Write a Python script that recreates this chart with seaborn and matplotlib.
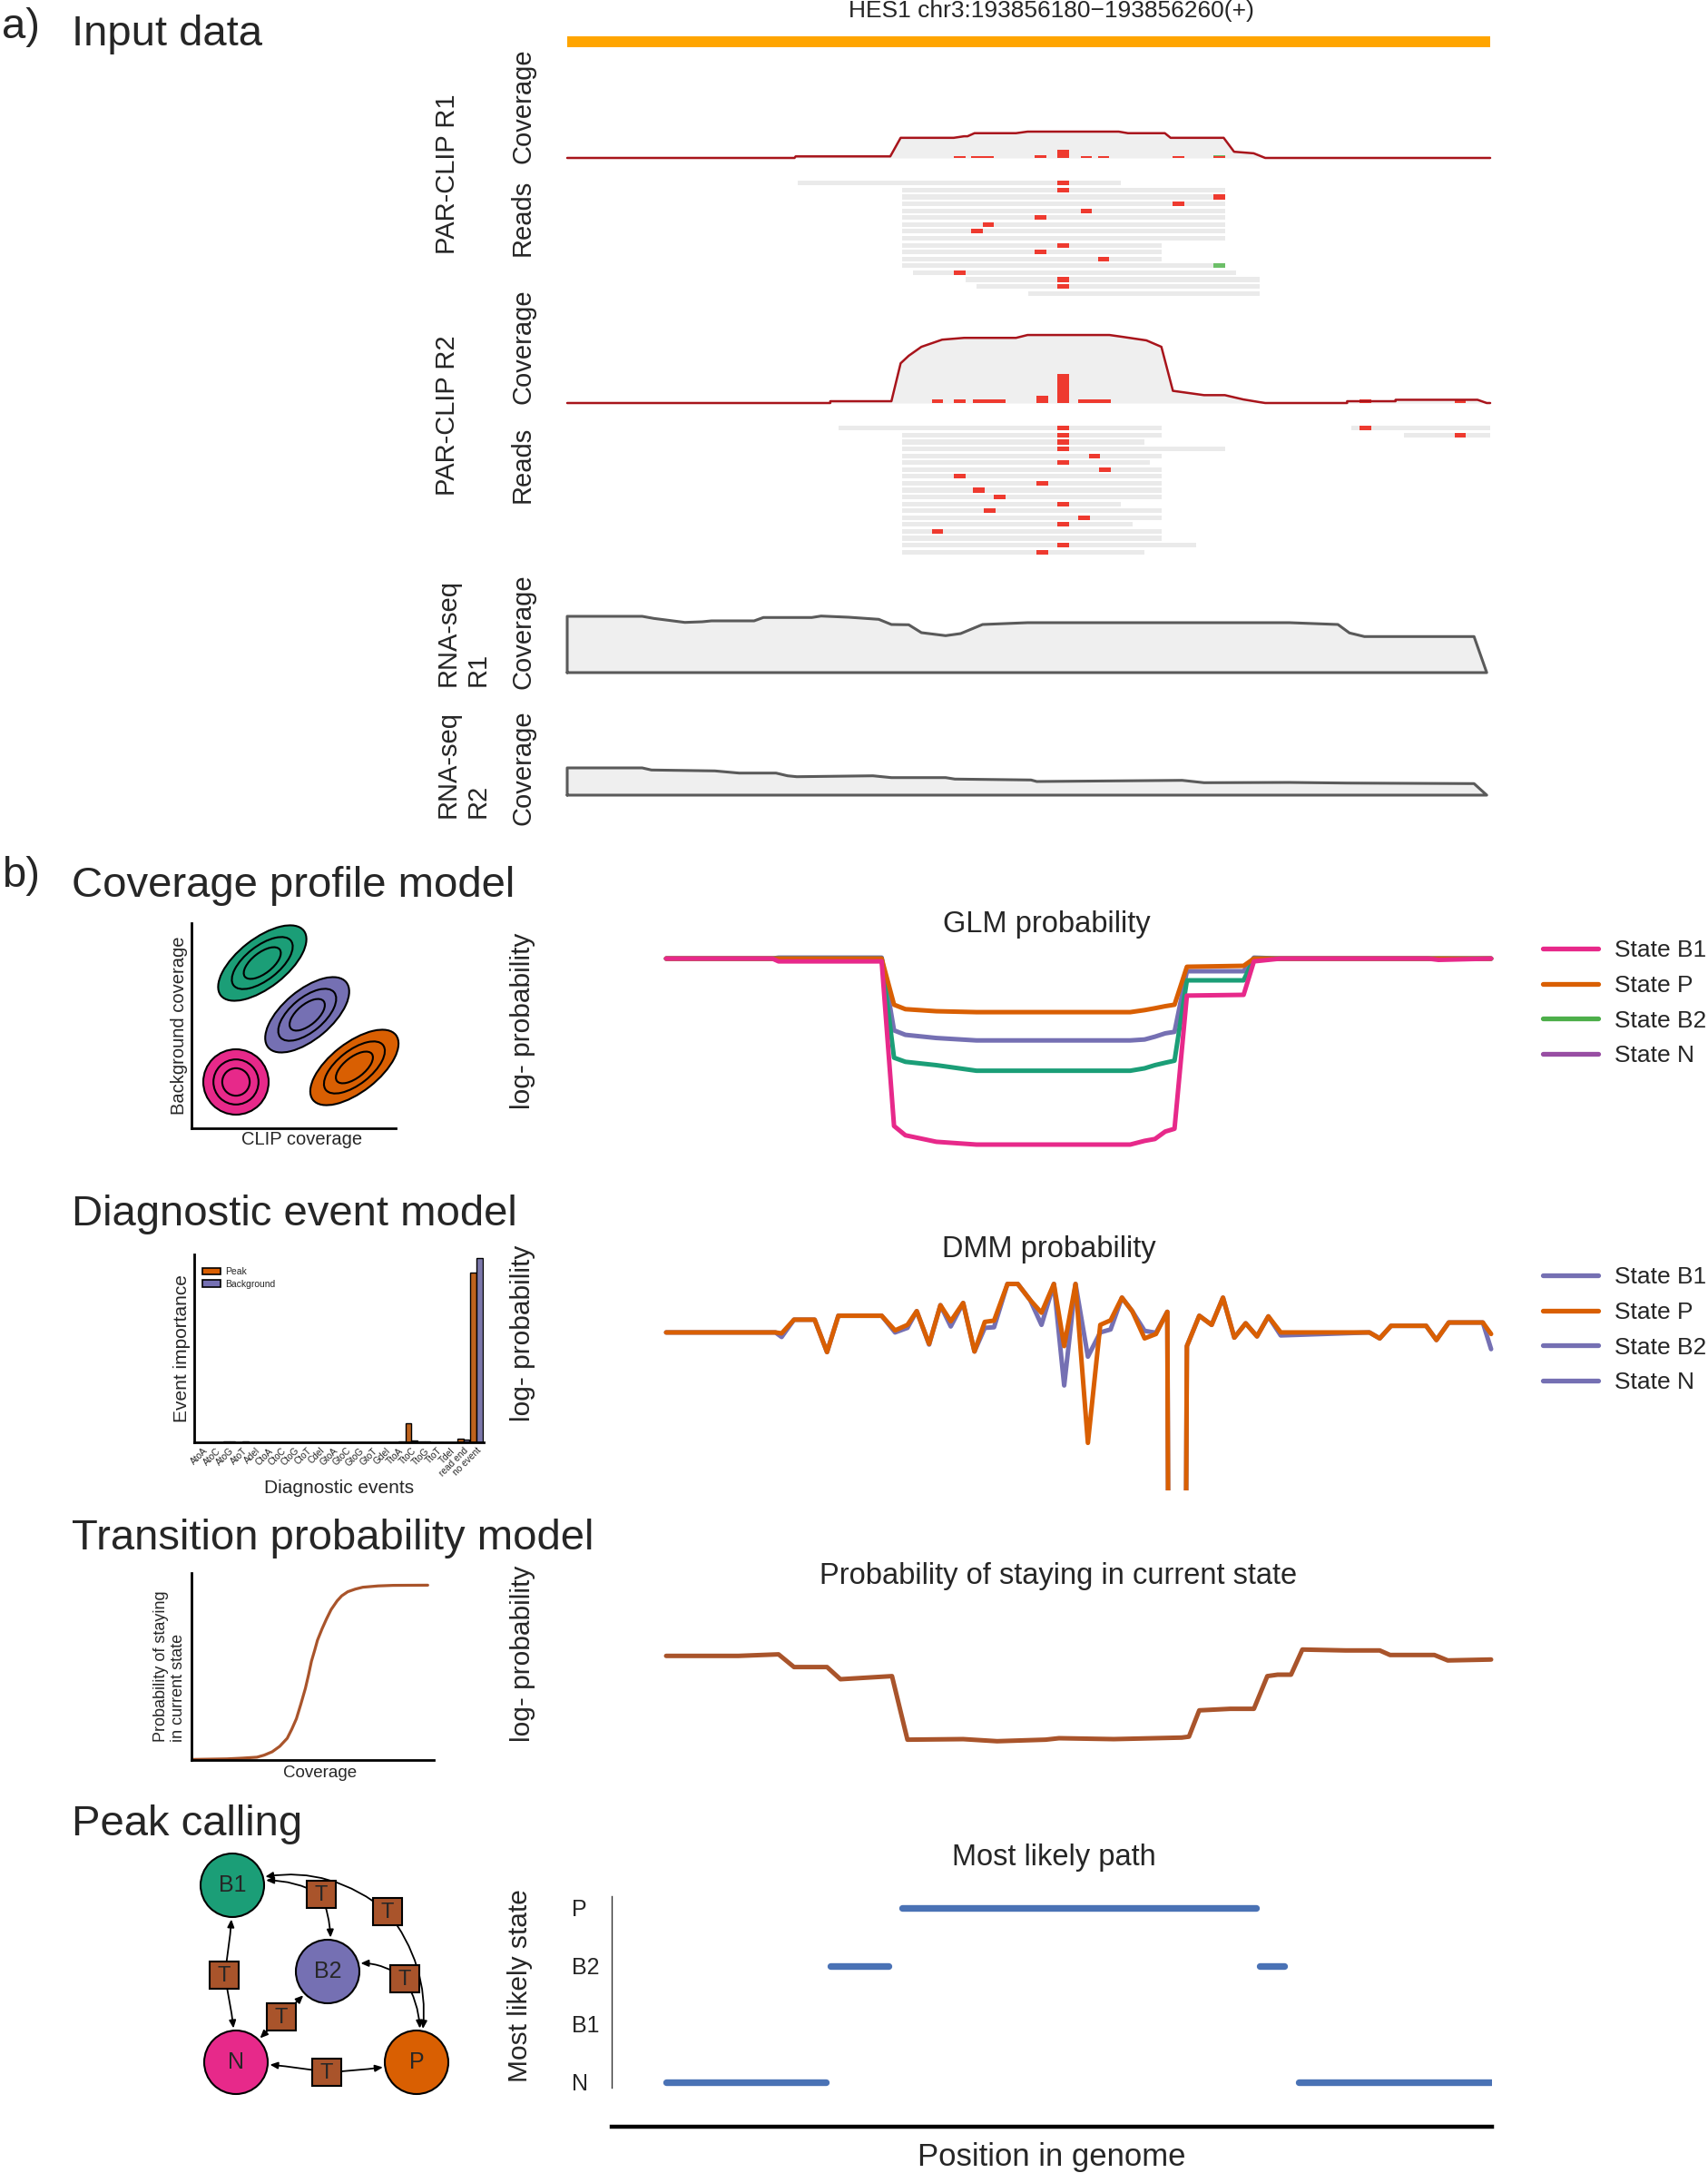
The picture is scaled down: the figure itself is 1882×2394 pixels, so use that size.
import numpy as np
import pandas as pd
import matplotlib
matplotlib.use("Agg")
import matplotlib.pyplot as plt
import seaborn as sns
from collections import Counter
from matplotlib.patches import Ellipse, Rectangle, Patch
from matplotlib.lines import Line2D

# ── data ───────────────────────────────────────────────────────────────────────
gene_label = "HES1 chr3:193856180\u2212193856260(+)"
gene_start, gene_end = 0, 80

# PAR-CLIP R1 coverage (position in bp, reads)
clip1_pos = [0, 19.7, 19.8, 28, 28.9, 33.5, 34.4, 34.7, 35.3, 38.9, 39.9, 47.8,
             48.6, 51.8, 52.3, 56.9, 57.8, 59.5, 60.5, 80]
clip1_cov = [0, 0, 1, 1, 13, 13, 14, 14, 16, 16, 17, 17, 16, 16, 13, 13, 4, 3, 0, 0]

clip1_read_row = list(range(17))
clip1_read_start = [20, 29, 29, 29, 29, 29, 29, 29, 29, 29, 29, 29, 29, 30, 34.5, 35.5, 40]
clip1_read_end = [48, 57, 57, 57, 57, 57, 57, 57, 57, 51.5, 51.5, 51.5, 57, 58, 60, 60, 60]
clip1_mm_row = [0, 1, 2, 3, 4, 5, 6, 7, 9, 10, 11, 12, 13, 14, 15]
clip1_mm_pos = [43, 43, 56.5, 53, 45, 41, 36.5, 35.5, 43, 41, 46.5, 56.5, 34, 43, 43]
clip1_mm_kind = ["TC", "TC", "TC", "TC", "TC", "TC", "TC", "TC", "TC", "TC", "TC",
                 "other", "TC", "TC", "TC"]

# PAR-CLIP R2
clip2_pos = [0, 22.8, 22.8, 28.1, 28.9, 29.6, 30.7, 32.5, 34.4, 38.9, 39.9, 47.0,
             48.1, 50.2, 51.5, 52.5, 55.2, 57.0, 58.6, 59.9, 60.5, 67.6, 67.6, 71.8,
             71.8, 78.9, 79.7, 80]
clip2_cov = [0, 0, 0.5, 0.5, 11.1, 13.2, 15.7, 17.7, 18.2, 18.2, 19, 19, 18.5, 17.5,
             15.7, 3.4, 2.2, 2.2, 1, 0.3, 0, 0, 0.5, 0.5, 0.9, 0.9, 0, 0]

clip2_read_row = [0, 0, 1, 1, 2, 3, 4, 5, 6, 7, 8, 9, 10, 11, 12, 13, 14, 15, 16, 17, 18]
clip2_read_start = [23.5, 68, 29, 72.5, 29, 29, 29, 29, 29, 29, 29, 29, 29, 29, 29, 29,
                    29, 29, 29, 29, 29]
clip2_read_end = [51.5, 80, 51.5, 80, 50, 57, 51.5, 50.5, 51.5, 51.5, 51.5, 51.5, 51.5,
                  48, 51.5, 51.5, 49, 51.5, 51.5, 54.5, 50]
clip2_mm_row = [0, 0, 1, 1, 2, 3, 4, 5, 6, 7, 8, 9, 10, 11, 12, 13, 14, 15, 17, 18]
clip2_mm_pos = [43, 69.2, 43, 77.4, 43, 43, 45.7, 43, 46.6, 34, 41.2, 35.7, 37.5, 43,
                36.6, 44.8, 43, 32.1, 43, 41.2]
clip2_mm_kind = ["TC"] * 20

# RNA-seq coverage
rna1_pos = [0, 0, 6.5, 7.5, 10.2, 11.7, 12.5, 16.2, 17.0, 21.2, 22.0, 24.4, 27.0, 28.1,
            29.6, 30.7, 32.8, 34.1, 36.0, 39.9, 62.6, 66.8, 67.8, 69.1, 78.6, 79.7]
rna1_cov = [0, 62, 62, 59.7, 55.3, 56, 57, 57, 60.7, 60.7, 62.3, 61, 58.7, 53, 52.7, 44,
            40.7, 43, 53, 55, 55, 53, 43.7, 39.7, 39.7, 0]
rna2_pos = [0, 0, 6.5, 7.3, 12.8, 14.9, 18.1, 19.1, 19.9, 26.5, 28.1, 32.8, 33.6, 40.2,
            40.7, 53.3, 55.2, 62.6, 67.6, 78.6, 79.7]
rna2_cov = [0, 30, 30, 27.7, 26.7, 24.3, 24.3, 21.3, 20.3, 21.3, 19.3, 19.3, 17.7, 16.7,
            15, 16.3, 13.7, 14, 13.3, 12.7, 0]

# Coverage profile model (schematic state distributions)
cpm_state = ["B1", "B2", "N", "P"]
cpm_clip = [78, 127.5, 49, 179.5]
cpm_background = [182, 125, 51, 67]
cpm_width = [116, 112, 72, 116]
cpm_height = [54, 54, 72, 54]
cpm_angle = [38, 40, 0, 38]

# Diagnostic event model
events = ["AtoA", "AtoC", "AtoG", "AtoT", "Adel", "CtoA", "CtoC", "CtoG", "CtoT", "Cdel",
          "GtoA", "GtoC", "GtoG", "GtoT", "Gdel", "TtoA", "TtoC", "TtoG", "TtoT", "Tdel",
          "read end", "no event"]
peak_importance = [0, 0, 0.004, 0, 0, 0, 0, 0, 0, 0, 0, 0, 0, 0, 0, 0.001, 0.105, 0.003,
                   0, 0, 0.021, 0.923]
bg_importance = [0, 0, 0.003, 0.003, 0, 0, 0, 0, 0, 0, 0, 0, 0, 0, 0, 0.003, 0.008, 0.004,
                 0, 0, 0.013, 1.0]

# Transition probability model (sigmoid)
trans_cov = [0.005, 0.146, 0.21, 0.27, 0.30, 0.333, 0.364, 0.395, 0.414, 0.433, 0.452,
             0.47, 0.483, 0.495, 0.508, 0.52, 0.539, 0.557, 0.576, 0.601, 0.62, 0.645,
             0.676, 0.707, 0.77, 0.832, 0.975]
trans_prob = [0.003, 0.006, 0.01, 0.015, 0.026, 0.044, 0.073, 0.116, 0.165, 0.221, 0.302,
              0.383, 0.455, 0.528, 0.585, 0.641, 0.702, 0.754, 0.804, 0.851, 0.878, 0.9,
              0.914, 0.924, 0.931, 0.934, 0.935]

# GLM log-probabilities along the region
glm_pos = [0, 10.3, 10.9, 20.9, 22.1, 23.2, 26.2, 30.1, 34.8, 45.0, 46.4, 47.4, 48.4,
           49.3, 50.5, 56.0, 57.0, 59.6, 73.9, 74.9, 80]
glm_b1 = [0, 0, -1.5, -1.5, -90, -95, -98.5, -100, -100, -100, -98, -97, -93, -91.5,
          -19.9, -19.5, -1.5, 0, 0, -0.7, 0]
glm_p = [0, 0, 0, 0, -24.8, -27.2, -28.3, -28.8, -28.8, -28.8, -27.7, -26.7, -25.6, -24.8,
         -4.4, -3.9, 0, 0, 0, 0, 0]
glm_b2 = [0, 0, 0, 0, -53.3, -55.5, -57.3, -60.3, -60.3, -60.3, -59, -57.3, -56, -54.9,
          -11.7, -11.7, 0, 0, 0, 0, 0]
glm_n = [0, 0, 0.5, 0.5, -38.6, -41, -42.7, -44, -44, -44, -43.5, -42, -40.2, -39.4, -6.8,
         -6.8, 0.5, 0, 0, 0, 0]

# DMM log-probabilities (background states overlap)
dmm_pos = [0, 10.6, 11.2, 12.4, 14.4, 15.6, 16.7, 20.9, 22.2, 23.4, 24.3, 25.5, 26.6,
           27.6, 28.8, 29.9, 30.9, 31.8, 33.1, 34.1, 35.3, 36.4, 37.6, 38.6, 39.7, 40.9,
           42.1, 43.1, 44.2, 45.2, 46.4, 47.5, 48.6, 48.7, 50.4, 50.5, 51.7, 52.9, 54.0,
           55.1, 56.2, 57.3, 58.4, 59.6, 68.2, 69.2, 70.3, 73.7, 74.7, 75.9, 79.2, 80.0]
dmm_peak = [0, 0, -0.6, 8.1, 8.1, -12.5, 10.6, 10.6, 1.3, 4.8, 13.5, -7.3, 17.3, 7.1,
            18.7, -12.1, 6.7, 7.5, 30.8, 30.8, 20.6, 12.5, 30.8, -8.7, 30.8, -70.2, 4.8,
            7.7, 22.1, 13.5, -3.8, -1.0, 13.1, -140, -140, -8.7, 10.6, 4.8, 22.1, -3.3,
            5.8, -2.5, 10.2, 0, 0, -3.8, 4.2, 4.2, -4.8, 6.3, 6.3, -1.0]
dmm_background = [0, 0, -2.9, 8.1, 8.1, -12.5, 10.6, 10.6, 0, 2.9, 13.5, -7.7, 17.3, 3.8,
                  18.7, -12.1, 2.9, 3.3, 30.8, 30.8, 20.6, 4.8, 30.8, -33.7, 30.8, -15.4,
                  0, 1.9, 22.1, 13.5, 1.0, -0.2, 13.1, -140, -140, -8.7, 10.6, 4.8, 22.1,
                  -3.3, 5.8, -2.5, 10.2, -1.9, 0, -3.8, 4.2, 4.2, -4.8, 6.3, 6.3, -10.6]

# Probability of staying in current state
stay_pos = [0, 7.0, 10.9, 12.4, 15.6, 16.9, 21.9, 23.4, 28.8, 32.1, 36.8, 38.1, 43.4,
            50.0, 50.7, 51.7, 54.7, 57.0, 58.3, 59.3, 60.6, 61.7, 65.9, 69.2, 70.2, 74.5,
            75.8, 80.0]
stay_logp = [-7, -7, -5.3, -19.3, -19.3, -32.7, -29.3, -99.3, -98.7, -101, -99.3, -97.7,
             -98.7, -97, -96, -67, -65.3, -65.3, -29.3, -27.7, -27.7, 0, -1, -1, -6, -6,
             -12, -11]

# Most likely path
state_order = ["N", "B1", "B2", "P"]
path_state = ["N", "B2", "P", "B2", "N"]
path_start = [0, 15.9, 22.9, 57.6, 61.3]
path_end = [15.5, 21.6, 57.2, 59.9, 80]

# Peak calling diagram
node_name = ["B1", "B2", "N", "P"]
node_x = [256, 361, 260, 459]
node_y = [2077, 2172, 2272, 2272]
t_box_x = [354, 427, 247, 446, 310, 360]
t_box_y = [2087, 2106, 2176, 2180, 2222, 2283]
t_box_targets = [("B1", "B2"), ("B1", "P"), ("B1", "N"), ("B2", "P"), ("B2", "N"), ("N", "P")]
t_box_bend = [(0.2, -0.15), (0.28, -0.25), (0.05, -0.05), (0.3, -0.2), (0.0, 0.0), (0.03, 0.03)]

# ── style ──────────────────────────────────────────────────────────────────────
PINK, ORANGE, GREEN, PURPLE = "#E7298A", "#D95F02", "#1B9E77", "#7570B3"
SIENNA = "#A9542B"
DARKRED = "#A8141B"
FILL_GREY = "#EFEFEF"
READ_GREY = "#EAEAEA"
MM_COLORS = {"TC": "#EE3A2F", "other": "#6CBF68"}
STATE_COLORS = {"B1": GREEN, "B2": PURPLE, "N": PINK, "P": ORANGE}

sns.set_style("white")
plt.rcParams["font.family"] = ["Liberation Sans", "DejaVu Sans"]

W, H = 1883, 2394
fig = plt.figure(figsize=(W / 100, H / 100), dpi=100)


def px_ax(x0, y0, x1, y1):
    return fig.add_axes([x0 / W, 1 - y1 / H, (x1 - x0) / W, (y1 - y0) / H])


def px_text(x, y, s, **kw):
    return fig.text(x / W, 1 - y / H, s, **kw)


def draw_coverage(ax, pos, cov, ymax, color, lw, mm=None):
    ax.fill_between(pos, cov, 0, color=FILL_GREY, lw=0, zorder=1)
    if mm is not None:
        counts = Counter(zip(mm[0], mm[1]))
        base = Counter()
        for kind in ["TC", "other"]:
            keys = sorted(p for (p, k) in counts if k == kind)
            if keys:
                h = [counts[(p, kind)] for p in keys]
                b = [base[p] for p in keys]
                ax.bar(keys, h, bottom=b, width=1.0, color=MM_COLORS[kind], lw=0, zorder=2)
                for p, hh in zip(keys, h):
                    base[p] += hh
    sns.lineplot(x=pos, y=cov, ax=ax, color=color, lw=lw, sort=False, estimator=None)
    for line in ax.lines:
        line.set_clip_on(False)
        line.set_zorder(3)
    ax.set_xlim(gene_start, gene_end)
    ax.set_ylim(0, ymax)
    ax.axis("off")


def draw_reads(ax, rows, starts, ends, mm_rows, mm_pos, mm_kind):
    ax.barh(rows, np.subtract(ends, starts), left=starts, height=0.68,
            color=READ_GREY, lw=0)
    ax.barh(mm_rows, 1.0, left=np.array(mm_pos) - 0.5, height=0.68,
            color=[MM_COLORS[k] for k in mm_kind], lw=0)
    ax.set_xlim(gene_start, gene_end)
    ax.set_ylim(max(rows) + 0.5, -0.5)
    ax.axis("off")


# ── panel a: input data ────────────────────────────────────────────────────────
px_text(2, 30, "a)", fontsize=34, va="center", ha="left")
px_text(79, 50, "Input data", fontsize=34, va="baseline", ha="left")
px_text(1158, 12, gene_label, fontsize=19, ha="center", va="center")

ax = px_ax(625, 40, 1642, 52)
ax.barh([0], [gene_end - gene_start], left=gene_start, height=1, color="#FFA500", lw=0)
ax.set_xlim(gene_start, gene_end)
ax.set_ylim(-0.5, 0.5)
ax.axis("off")

draw_coverage(px_ax(625, 130, 1642, 174), clip1_pos, clip1_cov, 25.8, DARKRED, 1.8,
              mm=(clip1_mm_pos, clip1_mm_kind))
draw_reads(px_ax(625, 198, 1642, 327), clip1_read_row, clip1_read_start, clip1_read_end,
           clip1_mm_row, clip1_mm_pos, clip1_mm_kind)
draw_coverage(px_ax(625, 360, 1642, 444), clip2_pos, clip2_cov, 21.3, DARKRED, 1.8,
              mm=(clip2_mm_pos, clip2_mm_kind))
draw_reads(px_ax(625, 468, 1642, 612), clip2_read_row, clip2_read_start, clip2_read_end,
           clip2_mm_row, clip2_mm_pos, clip2_mm_kind)


def draw_rna(ax, pos, cov, ymax):
    ax.fill_between(pos, cov, 0, color=FILL_GREY, lw=0)
    sns.lineplot(x=pos + [pos[0]], y=cov + [cov[0]], ax=ax, color="#5A5A5A", lw=2.2,
                 sort=False, estimator=None)
    for line in ax.lines:
        line.set_clip_on(False)
    ax.set_xlim(gene_start, gene_end)
    ax.set_ylim(0, ymax)
    ax.axis("off")


draw_rna(px_ax(625, 672, 1642, 741), rna1_pos, rna1_cov, 69)
draw_rna(px_ax(625, 840, 1642, 876), rna2_pos, rna2_cov, 36)

lab = dict(fontsize=21, rotation=90, ha="center", va="center")
px_text(493, 192, "PAR-CLIP R1", **lab)
px_text(576, 117, "Coverage", **lab)
px_text(576, 240, "Reads", **lab)
px_text(493, 458, "PAR-CLIP R2", **lab)
px_text(576, 382, "Coverage", **lab)
px_text(576, 512, "Reads", **lab)
px_text(510, 756, "RNA-seq\nR1", fontsize=21, rotation=90, ha="center", va="bottom",
        multialignment="left")
px_text(576, 696, "Coverage", **lab)
px_text(510, 901, "RNA-seq\nR2", fontsize=21, rotation=90, ha="center", va="bottom",
        multialignment="left")
px_text(576, 846, "Coverage", **lab)

# ── panel b: section titles ────────────────────────────────────────────────────
px_text(2, 965, "b)", fontsize=34, va="center", ha="left")
px_text(79, 988, "Coverage profile model", fontsize=34, va="baseline")
px_text(79, 1350, "Diagnostic event model", fontsize=34, va="baseline")
px_text(79, 1707, "Transition probability model", fontsize=34, va="baseline")
px_text(79, 2022, "Peak calling", fontsize=34, va="baseline")


def style_inset(ax):
    sns.despine(ax=ax)
    for s in ["left", "bottom"]:
        ax.spines[s].set_linewidth(2)
        ax.spines[s].set_color("black")
    ax.set_xticks([])
    ax.set_yticks([])


# coverage profile model inset
ax = px_ax(211, 1017, 436, 1243)
for st, cx, cy, w, h, a in zip(cpm_state, cpm_clip, cpm_background, cpm_width,
                                cpm_height, cpm_angle):
    for k, scale in enumerate([1.0, 0.69, 0.42]):
        ax.add_patch(Ellipse((cx, cy), w * scale, h * scale, angle=a,
                             facecolor=STATE_COLORS[st] if k == 0 else "none",
                             edgecolor="black", lw=1.5, clip_on=False))
ax.set_xlim(0, 225)
ax.set_ylim(0, 226)
style_inset(ax)
ax.set_xlabel("CLIP coverage", fontsize=14.5, labelpad=2)
ax.xaxis.set_label_coords(0.542, -0.015, transform=ax.transAxes)
ax.xaxis.label.set_va("top")
ax.set_ylabel("Background coverage", fontsize=14.5, labelpad=3)

# diagnostic event inset
ax = px_ax(214, 1382, 533, 1589)
diag_df = pd.DataFrame({"event": events * 2,
                        "importance": peak_importance + bg_importance,
                        "model": ["Peak"] * len(events) + ["Background"] * len(events)})
sns.barplot(data=diag_df, x="event", y="importance", hue="model", order=events,
            hue_order=["Peak", "Background"], palette=[ORANGE, PURPLE], width=0.93,
            edgecolor="black", linewidth=1, errorbar=None, legend=False, ax=ax)
ax.set_xlim(-0.7, 21.56)
ax.set_ylim(0, 1.021)
style_inset(ax)
ax.set_xticks(range(len(events)))
ax.set_xticklabels(events, rotation=45, ha="right", rotation_mode="anchor", fontsize=7.3)
ax.tick_params(axis="x", length=0, pad=3)
ax.set_xlabel("Diagnostic events", fontsize=15, labelpad=1)
ax.set_ylabel("Event importance", fontsize=15, labelpad=3)
ax.legend([Patch(facecolor=ORANGE, edgecolor="black", lw=1.2),
           Patch(facecolor=PURPLE, edgecolor="black", lw=1.2)],
          ["Peak", "Background"], loc="upper left", bbox_to_anchor=(0.028, 0.93),
          frameon=False, fontsize=7.5, handlelength=1.9, handleheight=0.7,
          labelspacing=0.3, borderpad=0, borderaxespad=0, handletextpad=0.5)

# transition probability inset
ax = px_ax(211, 1733, 478, 1939)
sns.lineplot(x=trans_cov, y=trans_prob, ax=ax, color=SIENNA, lw=2.3, sort=False,
             estimator=None)
ax.set_xlim(0, 1)
ax.set_ylim(0, 1)
style_inset(ax)
ax.set_xlabel("Coverage", fontsize=13.5, labelpad=4)
ax.xaxis.set_label_coords(0.53, -0.03, transform=ax.transAxes)
ax.xaxis.label.set_va("top")
ax.set_ylabel("Probability of staying\nin current state", fontsize=13, labelpad=4,
              multialignment="left")

# peak calling diagram
ax = px_ax(195, 2030, 500, 2320)
ax.set_xlim(195, 500)
ax.set_ylim(2320, 2030)
ax.axis("off")
node_pos = {n: (x, y) for n, x, y in zip(node_name, node_x, node_y)}
for n, x, y in zip(node_name, node_x, node_y):
    ax.add_patch(plt.Circle((x, y), 35, facecolor=STATE_COLORS[n], edgecolor="black",
                            lw=1.5, zorder=2))
    ax.text(x, y, n, fontsize=18, ha="center", va="center", zorder=5)
for bx, by, targets, bends in zip(t_box_x, t_box_y, t_box_targets, t_box_bend):
    for tgt, rad in zip(targets, bends):
        ax.annotate("", xy=node_pos[tgt], xytext=(bx, by), zorder=1,
                    arrowprops=dict(arrowstyle="-|>,head_length=0.5,head_width=0.22",
                                    color="black", lw=1.3, shrinkA=0, shrinkB=27,
                                    connectionstyle=f"arc3,rad={rad}"))
    ax.add_patch(Rectangle((bx - 16, by - 15), 32, 30, facecolor=SIENNA,
                           edgecolor="black", lw=1.5, zorder=4))
    ax.text(bx, by + 1, "T", fontsize=17, ha="center", va="center", zorder=5)

# ── panel b: right-hand profiles ───────────────────────────────────────────────
XL = (-0.53, 80.53)


def legend_at(ax, colors, labels, top_px):
    handles = [Line2D([], [], color=c, lw=3.8, solid_capstyle="round") for c in colors]
    ax.legend(handles, labels, loc="upper left", bbox_to_anchor=(1700 / W, 1 - top_px / H),
              bbox_transform=fig.transFigure, frameon=False, fontsize=19,
              handlelength=2.3, handletextpad=0.7, labelspacing=0.56,
              borderpad=0, borderaxespad=0)


# GLM probability
ax = px_ax(728, 1045, 1649, 1270)
glm_df = pd.DataFrame({
    "pos": glm_pos * 4,
    "logp": glm_n + glm_b2 + glm_p + glm_b1,
    "state": ["State N"] * len(glm_pos) + ["State B2"] * len(glm_pos)
             + ["State P"] * len(glm_pos) + ["State B1"] * len(glm_pos)})
sns.lineplot(data=glm_df, x="pos", y="logp", hue="state",
             hue_order=["State N", "State B2", "State P", "State B1"],
             palette=[PURPLE, GREEN, ORANGE, PINK], lw=3.6, sort=False, estimator=None,
             legend=False, ax=ax)
for line in ax.lines:
    line.set_solid_capstyle("round")
    line.set_solid_joinstyle("round")
ax.set_xlim(*XL)
ax.set_ylim(-104.4, 5.4)
ax.axis("off")
legend_at(ax, [PINK, ORANGE, "#4DAF4A", "#984EA3"],
          ["State B1", "State P", "State B2", "State N"], 1035)
px_text(1153, 1018, "GLM probability", fontsize=23.5, ha="center", va="center")
px_text(576, 1125, "log- probability", fontsize=21.5, rotation=90, ha="center",
        va="center")

# DMM probability
ax = px_ax(728, 1405, 1649, 1642)
dmm_df = pd.DataFrame({
    "pos": dmm_pos * 2,
    "logp": dmm_background + dmm_peak,
    "state": ["Background"] * len(dmm_pos) + ["Peak"] * len(dmm_pos)})
sns.lineplot(data=dmm_df, x="pos", y="logp", hue="state",
             hue_order=["Background", "Peak"], palette=[PURPLE, ORANGE], lw=3.6,
             sort=False, estimator=None, legend=False, ax=ax)
for line in ax.lines:
    line.set_solid_joinstyle("round")
ax.set_xlim(*XL)
ax.set_ylim(-100.4, 36.3)
ax.axis("off")
legend_at(ax, [PURPLE, ORANGE, PURPLE, PURPLE],
          ["State B1", "State P", "State B2", "State N"], 1395)
px_text(1156, 1376, "DMM probability", fontsize=23.5, ha="center", va="center")
px_text(576, 1469, "log- probability", fontsize=21.5, rotation=90, ha="center",
        va="center")

# Probability of staying in current state
ax = px_ax(728, 1800, 1649, 1925)
sns.lineplot(x=stay_pos, y=stay_logp, ax=ax, color=SIENNA, lw=3.6, sort=False,
             estimator=None)
for line in ax.lines:
    line.set_solid_joinstyle("round")
    line.set_solid_capstyle("round")
ax.set_xlim(*XL)
ax.set_ylim(-107.7, 17.3)
ax.axis("off")
px_text(1166, 1736, "Probability of staying in current state", fontsize=23.5,
        ha="center", va="center")
px_text(576, 1822, "log- probability", fontsize=21.5, rotation=90, ha="center",
        va="center")

# Most likely path
ax = px_ax(674, 2089, 1644, 2343)
levels = [state_order.index(s) for s in path_state]
ax.hlines(levels, path_start, path_end, colors="#4A72B5", lw=5.3, capstyle="round")
ax.set_xlim(-60 / 11.36, 80 + 1 / 11.36)
ax.set_ylim(-0.766, 3.2)
for s in ["top", "right"]:
    ax.spines[s].set_visible(False)
ax.spines["left"].set_linewidth(1)
ax.spines["left"].set_color("#333333")
ax.spines["left"].set_bounds(-0.09, 3.2)
ax.spines["bottom"].set_linewidth(3.2)
ax.spines["bottom"].set_color("black")
ax.set_xticks([])
ax.set_yticks(range(len(state_order)))
ax.set_yticklabels(state_order, fontsize=18)
for t in ax.get_yticklabels():
    t.set_horizontalalignment("left")
ax.tick_params(axis="y", length=0, pad=31.5)
ax.set_xlabel("Position in genome", fontsize=25, labelpad=12)
px_text(1161, 2046, "Most likely path", fontsize=23.5, ha="center", va="center")
px_text(573, 2188, "Most likely state", fontsize=21.5, rotation=90, ha="center",
        va="center")

fig.savefig("out.png", dpi=100)
